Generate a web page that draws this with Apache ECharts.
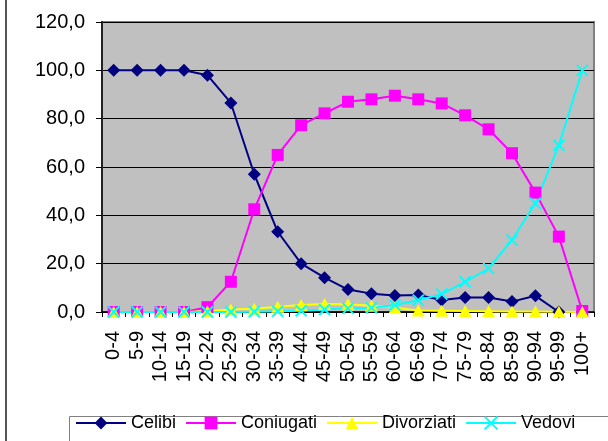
<!DOCTYPE html>
<html>
<head>
<meta charset="utf-8">
<script src="https://cdn.jsdelivr.net/npm/echarts@6/dist/echarts.min.js"></script>
<style>
  html, body { margin: 0; padding: 0; background: #ffffff; }
  #chart { width: 608px; height: 441px; }
</style>
</head>
<body>
<div id="chart"></div>
<script>
// Age classes
const ageClasses = ['0-4', '5-9', '10-14', '15-19', '20-24', '25-29', '30-34', '35-39',
  '40-44', '45-49', '50-54', '55-59', '60-64', '65-69', '70-74', '75-79', '80-84',
  '85-89', '90-94', '95-99', '100+'];

// Percentage of population by marital status in each age class
const celibi = [100, 100, 100, 100, 98.0, 86.5, 57.0, 33.2, 20.0, 14.2, 9.3, 7.6,
  6.8, 7.0, 5.0, 6.0, 6.0, 4.3, 6.7, 0, 0];
const coniugati = [0, 0, 0, 0, 2.0, 12.5, 42.5, 65.0, 77.3, 82.2, 87.0, 88.0,
  89.5, 88.0, 86.3, 81.4, 75.6, 65.7, 49.4, 31.2, 0.4];
const divorziati = [0, 0, 0, 0, 0.3, 1.0, 1.3, 2.2, 2.9, 3.3, 3.2, 2.6,
  1.8, 0.6, 0.5, 0.4, 0.3, 0.2, 0.2, 0.1, 0];
const vedovi = [0, 0, 0, 0, 0, 0, 0.1, 0.3, 0.5, 1.0, 1.5, 1.7,
  2.9, 4.9, 7.4, 12.5, 18.0, 29.8, 45.0, 69.0, 100];

// Y axis scale
const yMin = 0, yMax = 120, yStep = 20;

const FONT = "'Liberation Sans', Arial, sans-serif";
const NARROW = "'Liberation Sans Narrow', 'Liberation Sans', Arial, sans-serif";
const CROSS = 'path://M0,0L10,10M10,0L0,10';

function lineSeries(name, data, color, symbol, size, stroked) {
  return {
    name: name,
    type: 'line',
    data: data,
    symbol: symbol,
    symbolSize: size,
    showAllSymbol: true,
    lineStyle: { color: color, width: 2 },
    itemStyle: stroked
      ? { color: 'rgba(0,0,0,0)', borderColor: color, borderWidth: 2 }
      : { color: color, borderWidth: 0 },
    emphasis: { disabled: true },
    animation: false
  };
}

const chart = echarts.init(document.getElementById('chart'), null, { renderer: 'canvas' });
chart.setOption({
  backgroundColor: '#ffffff',
  animation: false,
  textStyle: { fontFamily: FONT },
  graphic: [
    { type: 'line', z: 0, shape: { x1: 6, y1: 0, x2: 6, y2: 441 },
      style: { stroke: '#555555', lineWidth: 2 } },
    { type: 'rect', z: 0, shape: { x: 69.5, y: 416.5, width: 600, height: 40 },
      style: { fill: '#ffffff', stroke: '#808080', lineWidth: 1 } }
  ],
  grid: {
    left: 102, top: 22, right: 14, bottom: 129,
    show: true,
    backgroundColor: '#C0C0C0',
    borderColor: '#808080',
    borderWidth: 2,
    containLabel: false,
    outerBoundsMode: 'none'
  },
  legend: {
    left: 75, top: 414,
    itemWidth: 50, itemHeight: 16, itemGap: 9,
    padding: 0,
    textStyle: { fontFamily: FONT, fontSize: 18, color: '#000', lineHeight: 18 },
    data: ['Celibi', 'Coniugati', 'Divorziati', 'Vedovi']
  },
  xAxis: {
    type: 'category',
    data: ageClasses,
    boundaryGap: true,
    axisLine: { show: true, lineStyle: { color: '#000', width: 1.5 } },
    axisTick: { show: true, alignWithLabel: false, length: 5, inside: false,
      lineStyle: { color: '#000', width: 1 } },
    axisLabel: { interval: 0, rotate: 90, margin: 19, fontFamily: NARROW,
      fontSize: 20, color: '#000', hideOverlap: false },
    splitLine: { show: false }
  },
  yAxis: {
    type: 'value',
    min: yMin, max: yMax, interval: yStep,
    axisLine: { show: true, lineStyle: { color: '#222', width: 2 } },
    axisTick: { show: true, length: 6, inside: false, lineStyle: { color: '#000', width: 1 } },
    axisLabel: { margin: 17, fontSize: 20, color: '#000', fontFamily: FONT,
      formatter: v => v.toFixed(1).replace('.', ',') },
    splitLine: { show: true, lineStyle: { color: '#000', width: 1 } }
  },
  series: [
    lineSeries('Celibi', celibi, '#000080', 'diamond', 13, false),
    lineSeries('Coniugati', coniugati, '#FF00FF', 'rect', 12, false),
    lineSeries('Divorziati', divorziati, '#FFFF00', 'triangle', [13, 12], false),
    lineSeries('Vedovi', vedovi, '#00FFFF', CROSS, 11, true)
  ]
});
</script>
</body>
</html>
